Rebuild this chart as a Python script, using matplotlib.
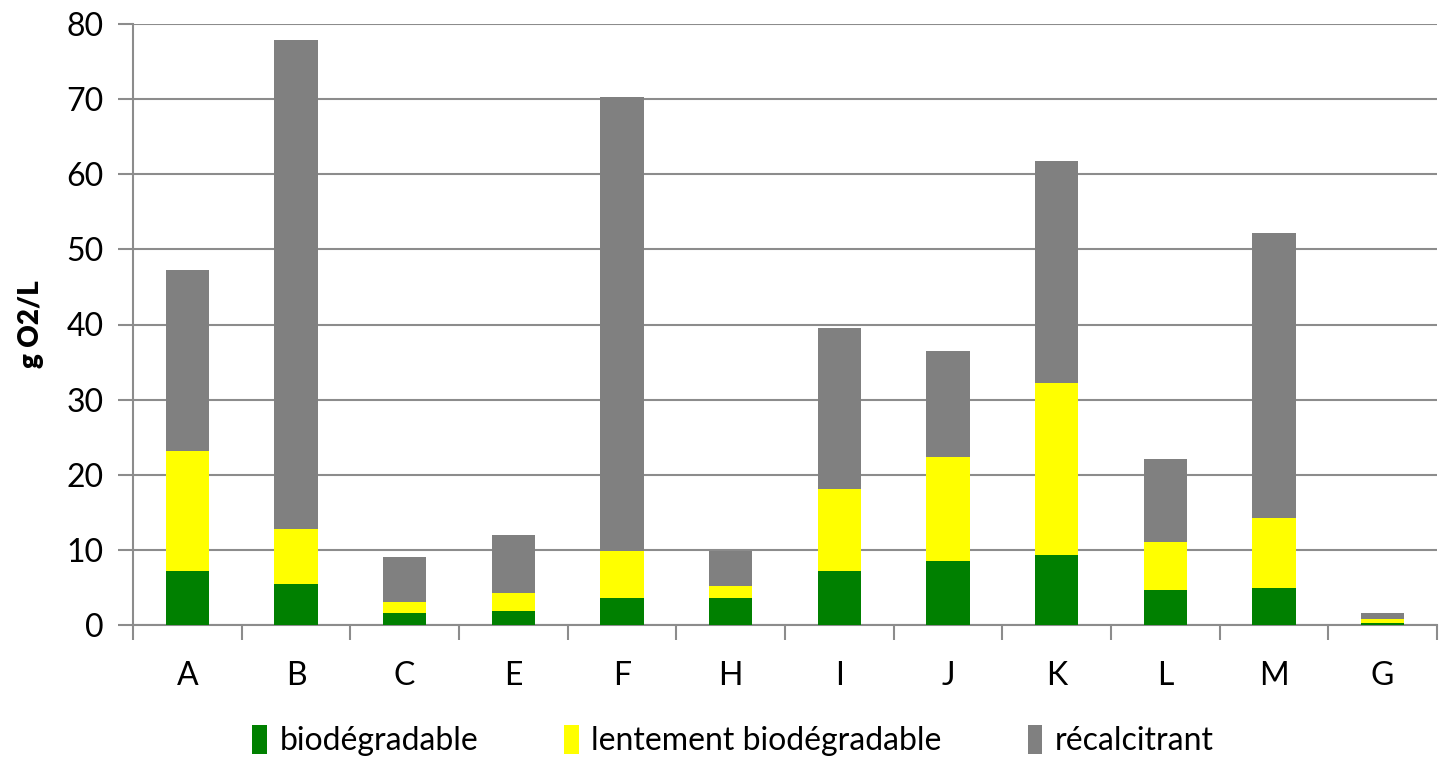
import numpy as np
import matplotlib
matplotlib.use("Agg")
import matplotlib.pyplot as plt

plt.rcParams['font.family'] = ['Lato', 'DejaVu Sans']

# data
categories = ['A', 'B', 'C', 'E', 'F', 'H', 'I', 'J', 'K', 'L', 'M', 'G']
# cumulative tops of each segment
top_bio = [7.2, 5.5, 1.6, 1.8, 3.6, 3.6, 7.2, 8.5, 9.3, 4.7, 4.9, 0.3]
top_lent = [23.2, 12.8, 3.1, 4.2, 9.8, 5.2, 18.1, 22.4, 32.2, 11.1, 14.2, 0.85]
top_total = [47.3, 77.9, 9.1, 12.0, 70.3, 9.8, 39.5, 36.5, 61.7, 22.1, 52.2, 1.6]

bio = np.array(top_bio)
lent = np.array(top_lent) - bio
recal = np.array(top_total) - np.array(top_lent)

series_names = ['biodégradable', 'lentement biodégradable', 'récalcitrant']
colors = ['#008000', '#FFFF00', '#808080']

fig = plt.figure(figsize=(14.49, 7.62), dpi=100)
ax = fig.add_axes([133/1449, 1 - 625/762, (1437-133)/1449, (625-24)/762])

x = np.arange(len(categories))
w = 0.40
ax.bar(x, bio, w, color=colors[0], label=series_names[0], zorder=3)
ax.bar(x, lent, w, bottom=bio, color=colors[1], label=series_names[1], zorder=3)
ax.bar(x, recal, w, bottom=bio + lent, color=colors[2], label=series_names[2], zorder=3)

ax.set_xlim(-0.5, len(categories) - 0.5)
ax.set_ylim(0, 80)
ax.set_yticks(np.arange(0, 81, 10))
ax.yaxis.grid(True, color='#8c8c8c', linewidth=1.5, zorder=0)
ax.set_axisbelow(True)

# category labels centred, tick marks on boundaries
ax.set_xticks(x)
ax.set_xticklabels(categories)
ax.tick_params(axis='x', which='major', length=0, pad=26, labelsize=23)
ax.set_xticks(np.arange(-0.5, len(categories), 1), minor=True)
ax.tick_params(axis='x', which='minor', length=11, width=1.5, color='#8c8c8c')
ax.tick_params(axis='y', length=11, width=1.5, color='#8c8c8c', labelsize=23, pad=10)

for s in ['top', 'right']:
    ax.spines[s].set_visible(False)
for s in ['left', 'bottom']:
    ax.spines[s].set_color('#8c8c8c')
    ax.spines[s].set_linewidth(1.5)

ax.set_ylabel('g O2/L', fontsize=20, fontweight='heavy', labelpad=16)

fig.legend(loc='center', bbox_to_anchor=(0.506, 0.028), ncol=3,
           frameon=False, fontsize=23, handlelength=0.45, handleheight=1.0,
           handletextpad=0.4, columnspacing=2.7, borderpad=0.1)

fig.savefig('out.png', dpi=100)
